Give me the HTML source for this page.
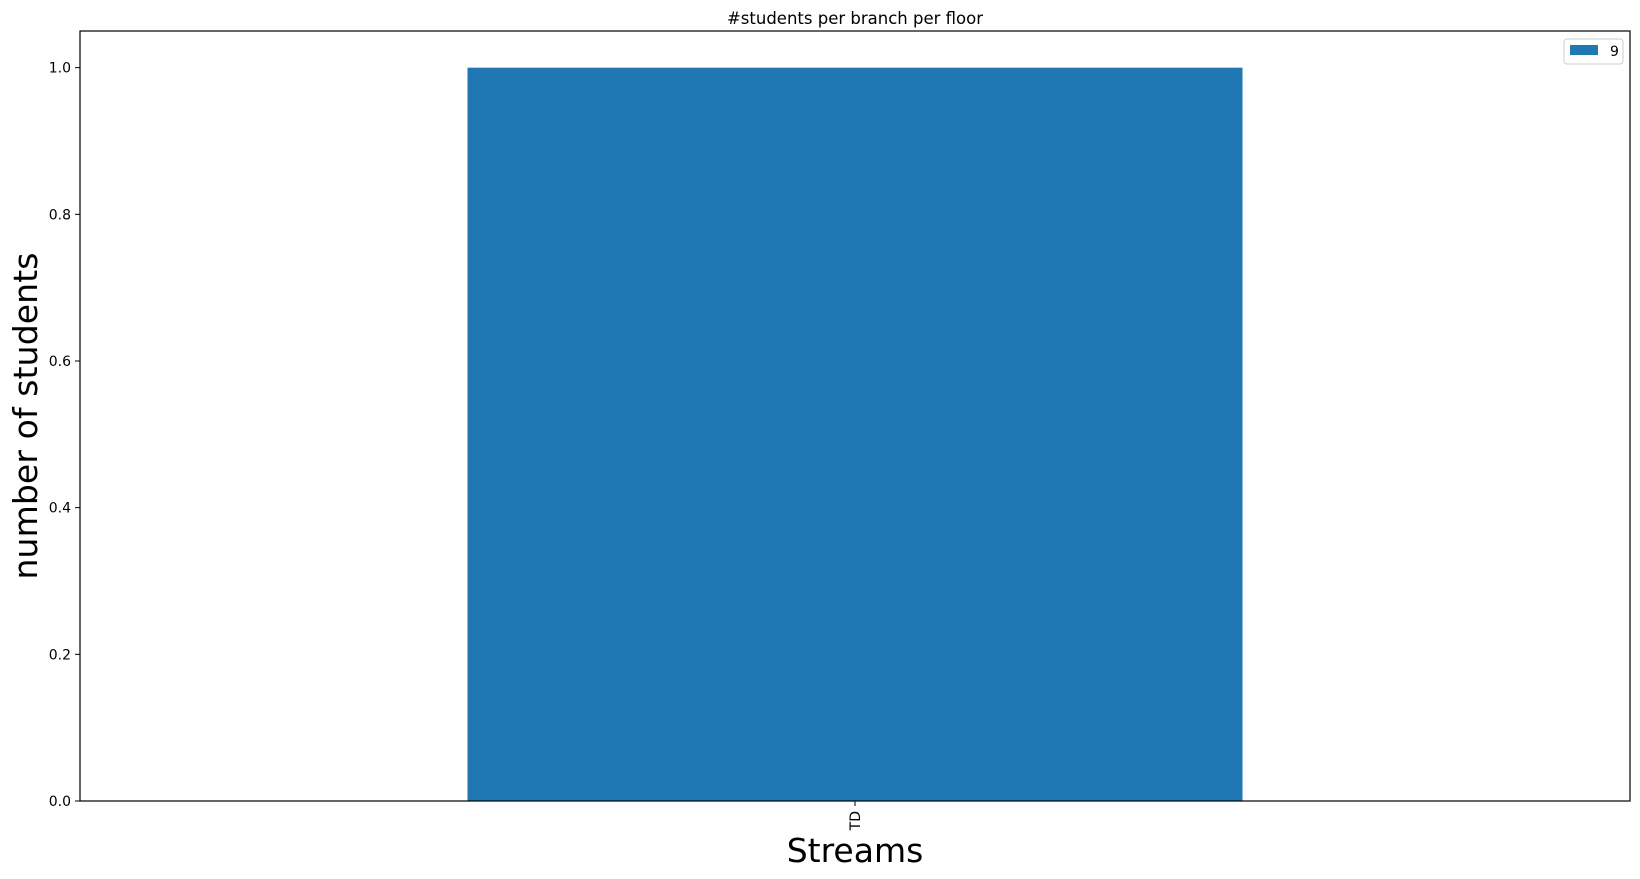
<!DOCTYPE html>
<html><head><meta charset="utf-8"><style>
body{margin:0;background:#fff;}
svg{display:block;font-family:"DejaVu Sans","Liberation Sans",sans-serif;}
</style></head><body>
<svg id="chart" width="1640" height="879">
<text x="855" y="24" font-size="16.5" text-anchor="middle">#students per branch per floor</text>
<g id="plot"></g>
<rect x="80" y="31" width="1550" height="770" fill="none" stroke="#000" stroke-width="1.2"/>
<text x="855" y="862" font-size="33" text-anchor="middle">Streams</text>
<text transform="translate(37,416) rotate(-90)" font-size="33" text-anchor="middle" textLength="327">number of students</text>
<g>
<rect x="1564" y="39" width="59" height="25" rx="3" fill="#fff" stroke="#ccc"/>
<rect x="1570" y="45" width="28" height="10" fill="#1f77b4"/>
<text id="legtext" x="1610" y="56" font-size="14">9</text>
</g>
</svg>
<script>
const categories = ["TD"];
const seriesName = "9";
const values = [1];
const yTicks = [0, 0.2, 0.4, 0.6, 0.8, 1.0];
const yTickLabels = ["0.0","0.2","0.4","0.6","0.8","1.0"];

const L=80,R=1630,T=31,B=801,yMax=1.05;
const n=categories.length;
const xs=i=>L+(R-L)*((i+0.5)/n);
const band=(R-L)/n;
const ys=v=>B-(B-T)*v/yMax;
const g=document.getElementById('plot');
const NS="http://www.w3.org/2000/svg";
document.getElementById('legtext').textContent=seriesName;
values.forEach((v,i)=>{
  const r=document.createElementNS(NS,'rect');
  r.setAttribute('x',xs(i)-band/4);r.setAttribute('width',band/2);
  r.setAttribute('y',ys(v));r.setAttribute('height',B-ys(v));
  r.setAttribute('fill','#1f77b4');
  
  
  g.appendChild(r);
});
categories.forEach((c,i)=>{
  const t=document.createElementNS(NS,'line');
  t.setAttribute('x1',xs(i));t.setAttribute('x2',xs(i));t.setAttribute('y1',B);t.setAttribute('y2',B+5);
  t.setAttribute('stroke','#000');
  
  
  g.appendChild(t);
  const tx=document.createElementNS(NS,'text');
  tx.setAttribute('transform',`translate(${xs(i)+5},${B+10}) rotate(-90)`);
  tx.setAttribute('font-size','14');tx.setAttribute('text-anchor','end');
  tx.textContent=c;
  
  
  g.appendChild(tx);
});
yTicks.forEach((v,i)=>{
  const t=document.createElementNS(NS,'line');
  t.setAttribute('x1',L-5);t.setAttribute('x2',L);t.setAttribute('y1',ys(v));t.setAttribute('y2',ys(v));
  t.setAttribute('stroke','#000');
  
  
  g.appendChild(t);
  const tx=document.createElementNS(NS,'text');
  tx.setAttribute('x',L-9);tx.setAttribute('y',ys(v)+5);
  tx.setAttribute('font-size','14');tx.setAttribute('text-anchor','end');
  tx.textContent=yTickLabels[i];
  
  
  g.appendChild(tx);
});
</script>
</body></html>
